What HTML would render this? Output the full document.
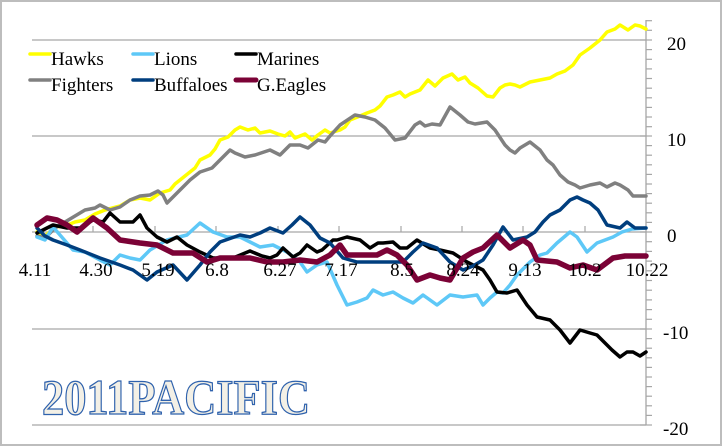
<!DOCTYPE html>
<html><head><meta charset="utf-8"><style>
html,body{margin:0;padding:0;background:#fff}
svg{display:block}
svg text{font-family:"Liberation Serif","DejaVu Serif",serif}
</style></head><body>
<svg width="722" height="446" viewBox="0 0 722 446" xmlns="http://www.w3.org/2000/svg" font-family="Liberation Serif, serif">
<rect x="1" y="1" width="720" height="444" fill="#fff" stroke="#bdbdbd" stroke-width="2"/>
<g stroke="#a6a6a6" stroke-width="1.3">
<line x1="32" y1="40" x2="646" y2="40"/>
<line x1="32" y1="136" x2="646" y2="136"/>
<line x1="32" y1="425" x2="646" y2="425"/>
<line x1="32" y1="329" x2="646" y2="329"/>
<line x1="32" y1="232" x2="646" y2="232"/>
<line x1="646" y1="20" x2="646" y2="425"/>
</g>
<g stroke="#a6a6a6" stroke-width="1.2">
<line x1="646" y1="20.7" x2="652" y2="20.7"/><line x1="646" y1="30.3" x2="652" y2="30.3"/><line x1="646" y1="49.6" x2="652" y2="49.6"/><line x1="646" y1="59.3" x2="652" y2="59.3"/><line x1="646" y1="68.9" x2="652" y2="68.9"/><line x1="646" y1="78.5" x2="652" y2="78.5"/><line x1="646" y1="88.2" x2="652" y2="88.2"/><line x1="646" y1="97.8" x2="652" y2="97.8"/><line x1="646" y1="107.4" x2="652" y2="107.4"/><line x1="646" y1="117" x2="652" y2="117"/><line x1="646" y1="126.7" x2="652" y2="126.7"/><line x1="646" y1="145.6" x2="652" y2="145.6"/><line x1="646" y1="155.2" x2="652" y2="155.2"/><line x1="646" y1="164.8" x2="652" y2="164.8"/><line x1="646" y1="174.4" x2="652" y2="174.4"/><line x1="646" y1="184" x2="652" y2="184"/><line x1="646" y1="193.6" x2="652" y2="193.6"/><line x1="646" y1="203.2" x2="652" y2="203.2"/><line x1="646" y1="212.8" x2="652" y2="212.8"/><line x1="646" y1="222.4" x2="652" y2="222.4"/><line x1="646" y1="241.7" x2="652" y2="241.7"/><line x1="646" y1="251.4" x2="652" y2="251.4"/><line x1="646" y1="261.1" x2="652" y2="261.1"/><line x1="646" y1="270.8" x2="652" y2="270.8"/><line x1="646" y1="280.5" x2="652" y2="280.5"/><line x1="646" y1="290.2" x2="652" y2="290.2"/><line x1="646" y1="299.9" x2="652" y2="299.9"/><line x1="646" y1="309.6" x2="652" y2="309.6"/><line x1="646" y1="319.3" x2="652" y2="319.3"/><line x1="646" y1="338.6" x2="652" y2="338.6"/><line x1="646" y1="348.2" x2="652" y2="348.2"/><line x1="646" y1="357.8" x2="652" y2="357.8"/><line x1="646" y1="367.4" x2="652" y2="367.4"/><line x1="646" y1="377" x2="652" y2="377"/><line x1="646" y1="386.6" x2="652" y2="386.6"/><line x1="646" y1="396.2" x2="652" y2="396.2"/><line x1="646" y1="405.8" x2="652" y2="405.8"/><line x1="646" y1="415.4" x2="652" y2="415.4"/>
<line x1="640" y1="40" x2="652" y2="40"/><line x1="640" y1="136" x2="652" y2="136"/><line x1="640" y1="232" x2="652" y2="232"/><line x1="640" y1="329" x2="652" y2="329"/><line x1="640" y1="425" x2="652" y2="425"/>
<line x1="93" y1="226" x2="93" y2="232"/><line x1="155" y1="226" x2="155" y2="232"/><line x1="216" y1="226" x2="216" y2="232"/><line x1="278" y1="226" x2="278" y2="232"/><line x1="339" y1="226" x2="339" y2="232"/><line x1="401" y1="226" x2="401" y2="232"/><line x1="462" y1="226" x2="462" y2="232"/><line x1="523" y1="226" x2="523" y2="232"/><line x1="585" y1="226" x2="585" y2="232"/>
</g>
<g font-size="19" fill="#000" font-family="Liberation Serif, serif">
<text x="667" y="50">20</text><text x="667" y="146">10</text><text x="667" y="242">0</text><text x="663" y="339">-10</text><text x="663" y="435">-20</text>
</g>
<g fill="none" stroke-linejoin="round" stroke-linecap="round">
<polyline stroke="#ffff00" stroke-width="3.5" points="37,232 45,236 55,227 65,226 75,222 85,220 95,214 105,210 120,206 130,200 140,198 150,200 160,193 170,190 175,184 185,176 195,168 200,160 210,155 215,149 220,140 228,137 235,130 240,127 248,130 255,128 260,133 270,131 278,134 285,136 290,132 295,138 305,134 312,140 318,135 325,130 330,133 340,130 345,127 350,120 360,116 367,113 375,110 380,106 387,97 393,95 400,92 405,97 410,94 420,90 428,80 435,86 443,78 452,74 458,80 465,77 470,83 478,88 487,96 493,97 500,88 505,85 510,84 515,85 520,87 530,82 540,80 550,78 557,74 565,71 573,65 580,55 590,48 600,40 607,32 615,29 620,25 628,30 635,25 640,26 646,29"/>
<polyline stroke="#808080" stroke-width="3.5" points="37,236 45,238 55,228 65,222 75,216 85,210 95,208 100,205 110,210 120,207 130,200 140,196 150,195 158,191 163,195 167,203 180,190 190,180 200,172 212,168 225,155 230,150 235,153 245,157 255,155 270,150 280,155 290,145 300,145 308,148 318,140 325,142 330,136 340,125 355,115 365,117 375,120 385,128 395,140 405,138 415,125 420,122 425,126 432,124 440,125 450,107 460,115 468,122 475,124 487,122 495,130 505,145 510,150 515,153 520,148 530,142 540,150 547,160 553,165 560,175 568,182 575,185 580,188 590,185 600,183 607,187 615,183 620,185 628,190 633,196 646,196"/>
<polyline stroke="#5ec8f7" stroke-width="3.5" points="37,237 45,240 53,227 60,235 73,250 85,252 100,260 110,265 120,255 130,258 140,260 150,250 167,240 187,235 200,223 213,232 227,237 240,237 260,247 273,245 287,252 300,262 307,272 317,265 327,262 337,285 347,305 357,302 367,298 373,290 383,295 393,292 403,298 413,303 423,295 437,305 450,295 463,297 477,295 483,305 490,298 497,292 503,293 510,285 517,275 530,262 540,255 547,253 557,243 570,232 577,237 587,252 597,243 605,240 613,237 622,232 632,229 646,228"/>
<polyline stroke="#000000" stroke-width="3.5" points="37,233 45,229 53,225 67,228 80,228 93,220 103,222 110,213 120,222 133,222 140,215 147,228 157,237 167,242 177,237 187,245 200,252 213,258 233,258 250,251 262,256 270,258 277,255 283,248 293,257 300,253 307,245 317,252 322,250 333,240 337,240 347,237 360,240 370,248 378,243 383,243 393,242 400,248 407,248 417,240 425,245 430,248 440,250 453,253 467,262 475,266 483,270 490,280 497,292 507,293 517,290 527,305 537,317 550,320 560,330 570,343 580,330 590,333 597,335 605,343 612,350 620,357 627,352 633,352 640,356 646,352"/>
<polyline stroke="#003e7e" stroke-width="3.5" points="37,228 45,236 53,240 67,245 80,250 100,258 120,265 133,270 147,280 157,272 173,265 187,280 200,265 210,252 220,242 240,235 250,237 260,233 270,228 283,233 292,225 300,217 310,225 320,238 330,243 343,258 357,262 383,262 403,262 413,252 423,243 437,248 450,262 463,270 473,266 483,260 493,245 503,227 513,240 527,237 535,232 543,222 550,215 560,210 570,200 577,197 583,200 590,203 598,210 607,225 620,228 627,222 635,228 646,228"/>
<polyline stroke="#7b0236" stroke-width="5.5" points="37,225 47,218 57,220 67,225 77,232 93,218 107,228 120,240 140,243 157,245 173,253 193,253 207,262 220,258 233,258 250,258 267,262 283,262 300,260 317,262 330,255 340,245 347,255 360,255 377,255 387,250 397,255 407,265 417,280 430,275 440,278 450,280 463,258 473,252 483,248 497,235 510,248 523,240 530,245 537,260 557,262 570,268 583,265 597,270 613,258 625,256 637,256 646,256"/>
</g>
<g font-size="19" fill="#000" font-family="Liberation Serif, serif" text-anchor="middle">
<text x="35" y="276">4.11</text>
<text x="96" y="276">4.30</text>
<text x="158" y="276">5.19</text>
<text x="217" y="276">6.8</text>
<text x="280" y="276">6.27</text>
<text x="341" y="276">7.17</text>
<text x="402" y="276">8.5</text>
<text x="463" y="276">8.24</text>
<text x="525" y="276">9.13</text>
<text x="585" y="276">10.2</text>
<text x="647" y="276">10.22</text>
</g>
<g stroke-width="3.5" stroke-linecap="round">
<line x1="30" y1="54" x2="50" y2="54" stroke="#ffff00"/>
<line x1="133" y1="54" x2="153" y2="54" stroke="#5ec8f7"/>
<line x1="236" y1="54" x2="256" y2="54" stroke="#000"/>
<line x1="30" y1="80" x2="50" y2="80" stroke="#808080"/>
<line x1="133" y1="80" x2="153" y2="80" stroke="#003e7e"/>
<line x1="236" y1="80" x2="256" y2="80" stroke="#7b0236" stroke-width="5"/>
</g>
<g font-size="19" fill="#000" font-family="Liberation Serif, serif">
<text x="51" y="65">Hawks</text><text x="154" y="65">Lions</text><text x="257" y="65">Marines</text>
<text x="51" y="91">Fighters</text><text x="154" y="91">Buffaloes</text><text x="257" y="91">G.Eagles</text>
</g>
<text x="42" y="414" font-size="50" font-weight="bold" font-family="Liberation Serif, serif" fill="#f3f0e6" stroke="#2f62ad" stroke-width="1.3" textLength="268" lengthAdjust="spacingAndGlyphs">2011PACIFIC</text>
</svg>
</body></html>
